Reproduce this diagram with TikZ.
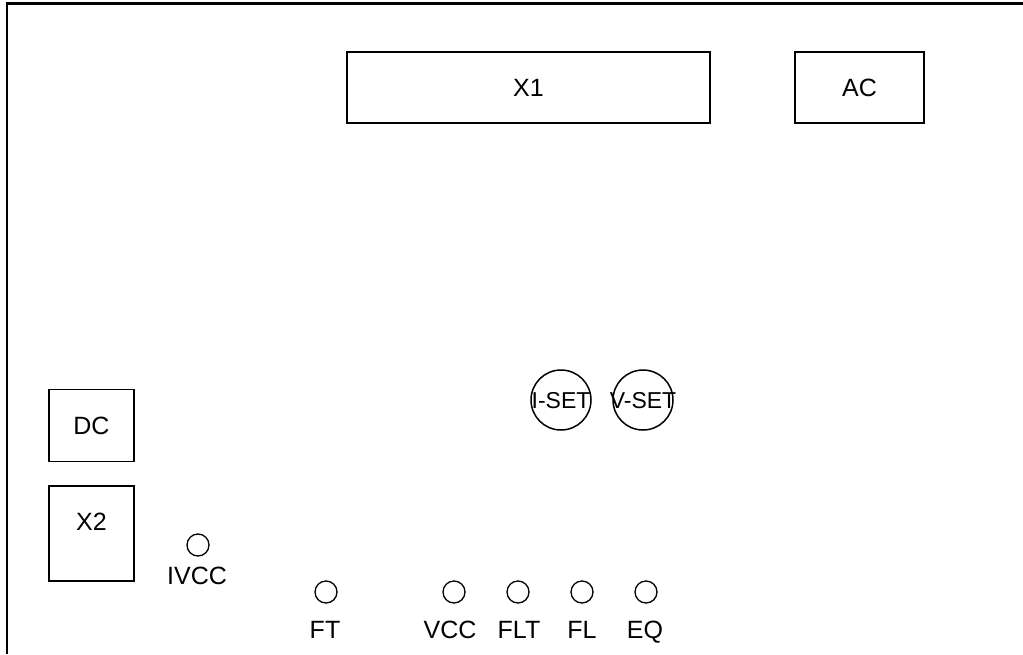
\documentclass[tikz,border=0pt]{standalone}
\usepackage{fontspec}
\setmainfont{Liberation Sans}
\begin{document}
\begin{tikzpicture}[x=1pt,y=-1pt,
  box/.style={draw,line width=1.5pt,inner sep=0pt},
  knob/.style={draw,circle,line width=1.5pt,minimum size=60pt,inner sep=0pt},
  led/.style={draw,circle,line width=1.3pt,minimum size=22pt,inner sep=0pt},
  lbl/.style={font=\fontsize{25}{30}\selectfont,inner sep=0pt,text depth=0pt}]
\useasboundingbox (0,0) rectangle (1023,654);
% frame
\draw[line width=2.2pt] (7,654) -- (7,3.5) -- (1023,3.5);
% boxes
\node[box,minimum width=363pt,minimum height=71pt] (x1) at (528.5,87.5) {};
\node[lbl] (x1t) at (x1.center) {X1};
\node[box,minimum width=129pt,minimum height=71pt] (ac) at (859.5,87.5) {};
\node[lbl] (act) at (ac.center) {AC};
\node[box,minimum width=85pt,minimum height=72pt] (dc) at (91.5,425.5) {};
\node[lbl] (dct) at (dc.center) {DC};
\node[box,minimum width=85pt,minimum height=95pt] (x2) at (91.5,533.5) {};
\node[lbl] (x2t) at (91.5,522) {X2};
% knobs
\node[knob] (iset) at (561,400) {};
\node[lbl,font=\fontsize{23}{26}\selectfont] (isett) at (iset.center) {I-SET};
\node[knob] (vset) at (643,400) {};
\node[lbl,font=\fontsize{23}{26}\selectfont] (vsett) at (vset.center) {V-SET};
% leds
\node[led] (ivcc) at (198,545) {};
\node[lbl] (ivcct) at (197,576) {IVCC};
\node[led] (ft) at (326,592) {};
\node[lbl] (ftt) at (325,630) {FT};
\node[led] (vcc) at (454,592) {};
\node[lbl] (vcct) at (450,630) {VCC};
\node[led] (flt) at (518,592) {};
\node[lbl] (fltt) at (519,630) {FLT};
\node[led] (fl) at (582,592) {};
\node[lbl] (flt2) at (582,630) {FL};
\node[led] (eq) at (646,592) {};
\node[lbl] (eqt) at (645,630) {EQ};
\end{tikzpicture}
\end{document}
